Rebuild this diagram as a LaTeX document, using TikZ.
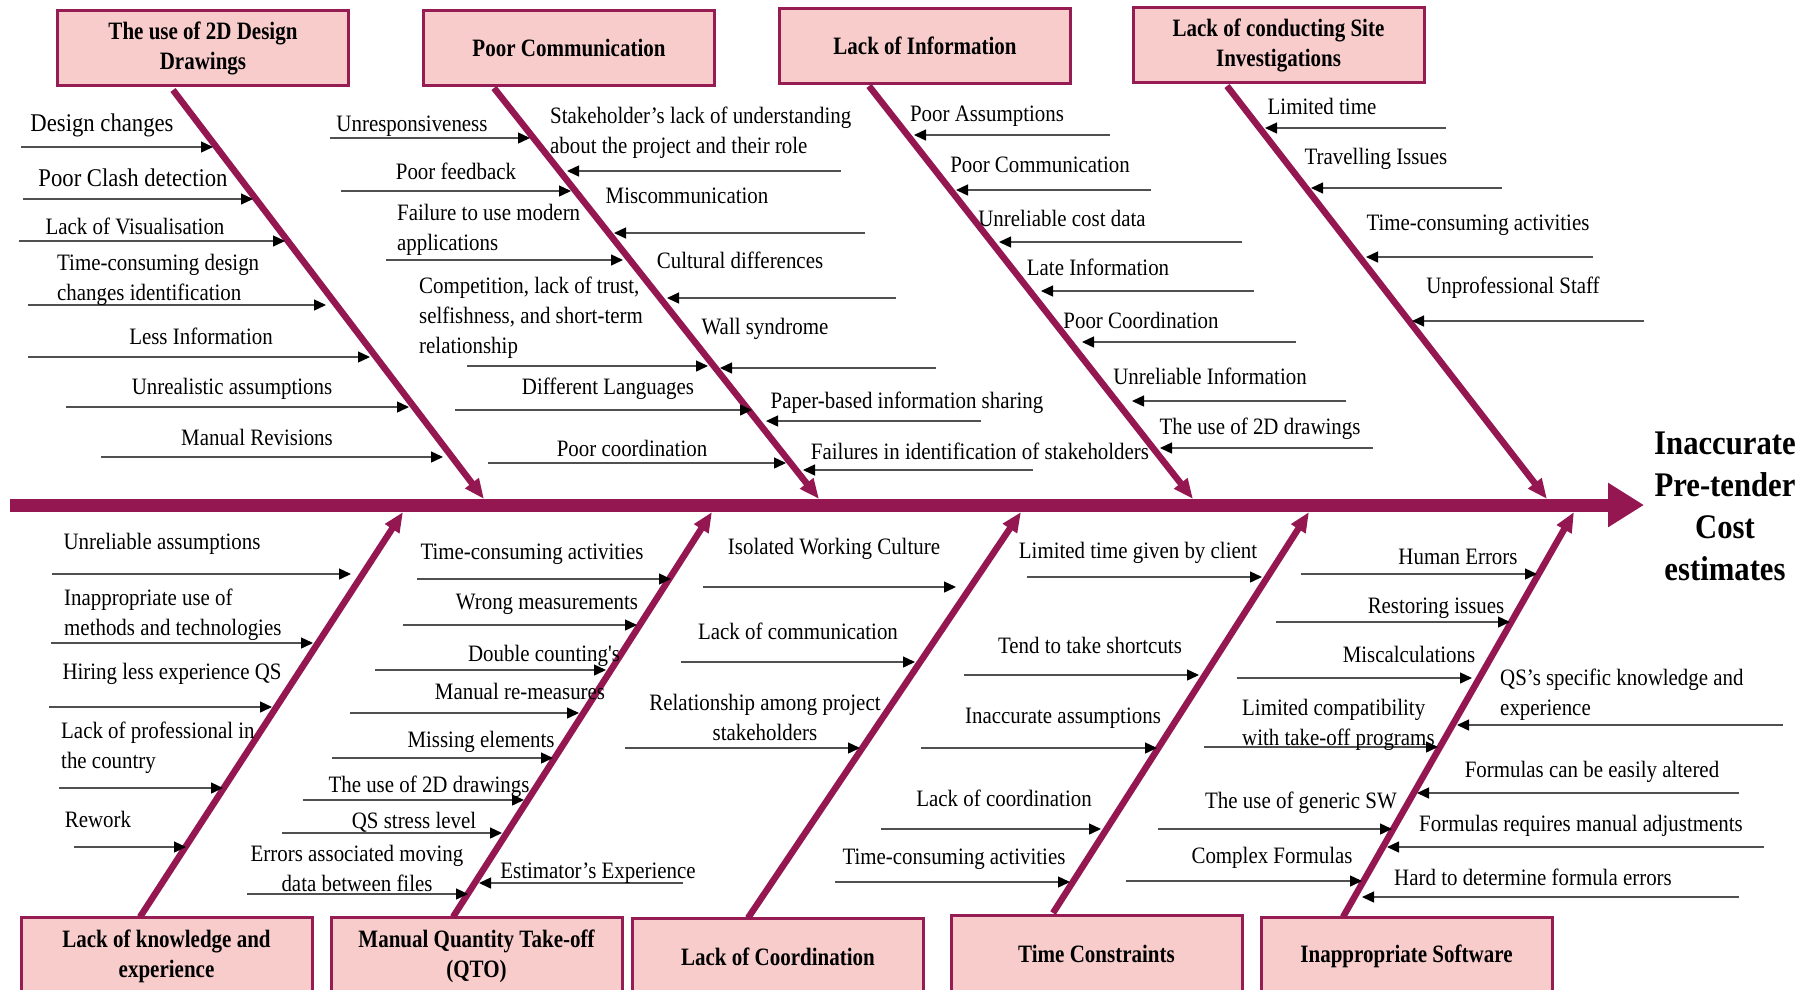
\documentclass[tikz,border=0pt]{standalone}
\usepackage{fontspec}
\setmainfont{Liberation Serif}[FakeStretch=0.89,Ligatures=TeXOff]
\newfontfamily\headfont{Liberation Serif}[FakeStretch=0.84,Ligatures=TeXOff]
\usetikzlibrary{arrows.meta}
\definecolor{bonecol}{RGB}{148,23,81}
\definecolor{boxfill}{RGB}{249,204,204}
\definecolor{boxline}{RGB}{150,28,84}
\definecolor{causeline}{RGB}{80,80,80}
\tikzset{
  spine/.style={bonecol, line width=13pt, -{Triangle[length=36pt,width=42pt]}},
  bone/.style={bonecol, line width=6.5pt, -{Triangle[length=20pt,width=16pt]}},
  cause/.style={causeline, line width=1.4pt, -{Triangle[length=12pt,width=11pt,color=black]}},
  lbl/.style={inner sep=0pt, yshift=-3.5pt, font=\fontsize{23.5}{30}\selectfont, text height=0.66em, text depth=0pt},
  biglbl/.style={lbl, font=\fontsize{25.5}{30}\selectfont},
  mlbl/.style={inner sep=0pt, yshift=-1.5pt, font=\fontsize{23.5}{30}\selectfont},
  catbox/.style={draw=boxline, fill=boxfill, line width=3pt, minimum width=291pt,
    minimum height=75pt, align=center, inner sep=0pt,
    font=\headfont\fontsize{25}{30}\selectfont\bfseries},
  effectlbl/.style={align=center, inner sep=0pt, font=\fontsize{34.5}{42}\selectfont\bfseries}
}
% one sub-cause arrow: name, tail x, tip x, y
\newcommand\cause[4]{%
  \coordinate (#1-t) at (#2,#4);
  \coordinate (#1-h) at (#3,#4);
  \draw[cause] (#1-t) -- (#1-h);}
\begin{document}
\begin{tikzpicture}[x=1pt,y=-1pt]
\useasboundingbox (0,0) rectangle (1815,989);
\clip (0,0) rectangle (1815,989);

% ---- effect and spine ----
\node[effectlbl] (effect) at (1725,506) {Inaccurate\\Pre-tender\\Cost\\estimates};
\coordinate (tail) at (10,505);
\coordinate (head) at (1644,505);
\draw[spine] (tail) -- (head);

% ---- category boxes ----
\node[catbox] (k1) at (203,48) {The use of 2D Design\\Drawings};
\node[catbox] (k2) at (569,47.5) {Poor Communication};
\node[catbox] (k3) at (925,46) {Lack of Information};
\node[catbox] (k4) at (1278.5,45) {Lack of conducting Site\\Investigations};
\node[catbox, minimum height=78pt] (k5) at (166.5,956) {Lack of knowledge and\\experience};
\node[catbox, minimum height=78pt] (k6) at (476.5,956) {Manual Quantity Take-off\\(QTO)};
\node[catbox, minimum height=78pt] (k7) at (778,957) {Lack of Coordination};
\node[catbox, minimum height=78pt] (k8) at (1096.5,954) {Time Constraints};
\node[catbox, minimum height=78pt] (k9) at (1406.5,956) {Inappropriate Software};

% ---- bones ----
\coordinate (b1s) at (173,90);   \coordinate (b1e) at (484,499);
\coordinate (b2s) at (494,88);   \coordinate (b2e) at (819,499);
\coordinate (b3s) at (869,86);   \coordinate (b3e) at (1193,499);
\coordinate (b4s) at (1227,86);  \coordinate (b4e) at (1547,499);
\coordinate (b5s) at (140,917);  \coordinate (b5e) at (403,512);
\coordinate (b6s) at (453,917);  \coordinate (b6e) at (712,512);
\coordinate (b7s) at (748,918);  \coordinate (b7e) at (1021,512);
\coordinate (b8s) at (1053,913); \coordinate (b8e) at (1309,512);
\coordinate (b9s) at (1343,917); \coordinate (b9e) at (1574,512);
\foreach \i in {1,...,9} {\draw[bone] (b\i s) -- (b\i e);}

% ---- The use of 2D Design Drawings ----
\cause{a1}{21}{213}{147}
\node[biglbl] (a1-l) at (102,125) {Design changes};
\cause{a2}{23}{253}{199}
\node[biglbl] (a2-l) at (133,180) {Poor Clash detection};
\cause{a3}{19}{285}{241}
\node[lbl] (a3-l) at (135,228) {Lack of Visualisation};
\cause{a4}{28}{326}{305}
\node[mlbl, align=left, anchor=west] (a4-l) at (57,278) {Time-consuming design\\changes identification};
\cause{a5}{28}{370}{357}
\node[lbl] (a5-l) at (201,338) {Less Information};
\cause{a6}{66}{409}{407}
\node[lbl] (a6-l) at (232,388) {Unrealistic assumptions};
\cause{a7}{101}{443}{457}
\node[lbl] (a7-l) at (257,439) {Manual Revisions};

% ---- Poor Communication ----
\cause{p1}{330}{530}{138}
\node[lbl] (p1-l) at (412,125) {Unresponsiveness};
\cause{p2}{341}{571}{191}
\node[lbl] (p2-l) at (456,173) {Poor feedback};
\cause{p3}{386}{623}{260}
\node[mlbl, align=left, anchor=west] (p3-l) at (397,228) {Failure to use modern\\applications};
\cause{p4}{467}{708}{366}
\node[mlbl, align=left, anchor=west] (p4-l) at (419,316) {Competition, lack of trust,\\selfishness, and short-term\\relationship};
\cause{p5}{455}{752}{410}
\node[lbl] (p5-l) at (608,388) {Different Languages};
\cause{p6}{488}{786}{463}
\node[lbl] (p6-l) at (632,450) {Poor coordination};
\cause{p7}{841}{567}{171}
\node[mlbl, align=left, anchor=west] (p7-l) at (550,131) {Stakeholder’s lack of understanding\\about the project and their role};
\cause{p8}{865}{614}{233}
\node[lbl] (p8-l) at (687,197) {Miscommunication};
\cause{p9}{896}{667}{298}
\node[lbl] (p9-l) at (740,262) {Cultural differences};
\cause{p10}{936}{720}{368}
\node[lbl] (p10-l) at (765,328) {Wall syndrome};
\cause{p11}{981}{766}{421}
\node[lbl] (p11-l) at (907,402) {Paper-based information sharing};
\cause{p12}{1033}{803}{470}
\node[lbl] (p12-l) at (980,453) {Failures in identification of stakeholders};

% ---- Lack of Information ----
\cause{n1}{1110}{914}{135}
\node[lbl] (n1-l) at (987,115) {Poor Assumptions};
\cause{n2}{1151}{956}{190}
\node[lbl] (n2-l) at (1040,166) {Poor Communication};
\cause{n3}{1242}{999}{242}
\node[lbl] (n3-l) at (1062,220) {Unreliable cost data};
\cause{n4}{1254}{1041}{291}
\node[lbl] (n4-l) at (1098,269) {Late Information};
\cause{n5}{1296}{1082}{342}
\node[lbl] (n5-l) at (1141,322) {Poor Coordination};
\cause{n6}{1346}{1132}{401}
\node[lbl] (n6-l) at (1210,378) {Unreliable Information};
\cause{n7}{1373}{1160}{448}
\node[lbl] (n7-l) at (1260,428) {The use of 2D drawings};

% ---- Lack of conducting Site Investigations ----
\cause{s1}{1446}{1265}{128}
\node[lbl] (s1-l) at (1322,108) {Limited time};
\cause{s2}{1502}{1311}{188}
\node[lbl] (s2-l) at (1376,158) {Travelling Issues};
\cause{s3}{1593}{1366}{257}
\node[lbl] (s3-l) at (1478,224) {Time-consuming activities};
\cause{s4}{1644}{1412}{321}
\node[lbl] (s4-l) at (1513,287) {Unprofessional Staff};

% ---- Lack of knowledge and experience ----
\cause{e1}{52}{351}{574}
\node[lbl] (e1-l) at (162,543) {Unreliable assumptions};
\cause{e2}{51}{313}{643}
\node[mlbl, align=left, anchor=west] (e2-l) at (64,613) {Inappropriate use of\\methods and technologies};
\cause{e3}{49}{272}{707}
\node[lbl] (e3-l) at (172,673) {Hiring less experience QS};
\cause{e4}{59}{223}{788}
\node[mlbl, align=left, anchor=west] (e4-l) at (61,746) {Lack of professional in\\the country};
\cause{e5}{74}{186}{847}
\node[lbl] (e5-l) at (98,821) {Rework};

% ---- Manual Quantity Take-off ----
\cause{q1}{417}{671}{579}
\node[lbl] (q1-l) at (532,553) {Time-consuming activities};
\cause{q2}{403}{637}{625}
\node[lbl] (q2-l) at (547,603) {Wrong measurements};
\cause{q3}{375}{606}{670}
\node[lbl] (q3-l) at (544,655) {Double counting's};
\cause{q4}{350}{579}{713}
\node[lbl] (q4-l) at (520,693) {Manual re-measures};
\cause{q5}{332}{553}{758}
\node[lbl] (q5-l) at (481,741) {Missing elements};
\cause{q6}{303}{524}{800}
\node[lbl] (q6-l) at (429,786) {The use of 2D drawings};
\cause{q7}{282}{502}{833}
\node[lbl] (q7-l) at (414,822) {QS stress level};
\cause{q8}{247}{468}{894}
\node[mlbl, align=center] (q8-l) at (357,867) {Errors associated moving\\data between files};
\cause{q9}{683}{479}{883}
\node[lbl] (q9-l) at (598,872) {Estimator’s Experience};

% ---- Lack of Coordination ----
\cause{c1}{703}{956}{587}
\node[lbl] (c1-l) at (834,548) {Isolated Working Culture};
\cause{c2}{681}{915}{662}
\node[lbl] (c2-l) at (798,633) {Lack of communication};
\cause{c3}{625}{860}{748}
\node[mlbl, align=center] (c3-l) at (765,716) {Relationship among project\\stakeholders};

% ---- Time Constraints ----
\cause{t1}{1027}{1262}{577}
\node[lbl] (t1-l) at (1138,552) {Limited time given by client};
\cause{t2}{964}{1199}{675}
\node[lbl] (t2-l) at (1090,647) {Tend to take shortcuts};
\cause{t3}{921}{1157}{748}
\node[lbl] (t3-l) at (1063,717) {Inaccurate assumptions};
\cause{t4}{881}{1101}{829}
\node[lbl] (t4-l) at (1004,800) {Lack of coordination};
\cause{t5}{835}{1070}{882}
\node[lbl] (t5-l) at (954,858) {Time-consuming activities};

% ---- Inappropriate Software ----
\cause{w1}{1301}{1537}{574}
\node[lbl] (w1-l) at (1458,558) {Human Errors};
\cause{w2}{1276}{1510}{622}
\node[lbl] (w2-l) at (1436,607) {Restoring issues};
\cause{w3}{1237}{1472}{678}
\node[lbl] (w3-l) at (1409,656) {Miscalculations};
\cause{w4}{1204}{1438}{747}
\node[mlbl, align=left, anchor=west] (w4-l) at (1242,723) {Limited compatibility\\with take-off programs};
\cause{w5}{1158}{1392}{829}
\node[lbl] (w5-l) at (1301,802) {The use of generic SW};
\cause{w6}{1126}{1362}{881}
\node[lbl] (w6-l) at (1272,857) {Complex Formulas};
\cause{w7}{1783}{1457}{725}
\node[mlbl, align=left, anchor=west] (w7-l) at (1500,693) {QS’s specific knowledge and\\experience};
\cause{w8}{1739}{1417}{793}
\node[lbl] (w8-l) at (1592,771) {Formulas can be easily altered};
\cause{w9}{1764}{1387}{847}
\node[lbl] (w9-l) at (1581,825) {Formulas requires manual adjustments};
\cause{w10}{1739}{1362}{897}
\node[lbl] (w10-l) at (1533,879) {Hard to determine formula errors};
\end{tikzpicture}
\end{document}
